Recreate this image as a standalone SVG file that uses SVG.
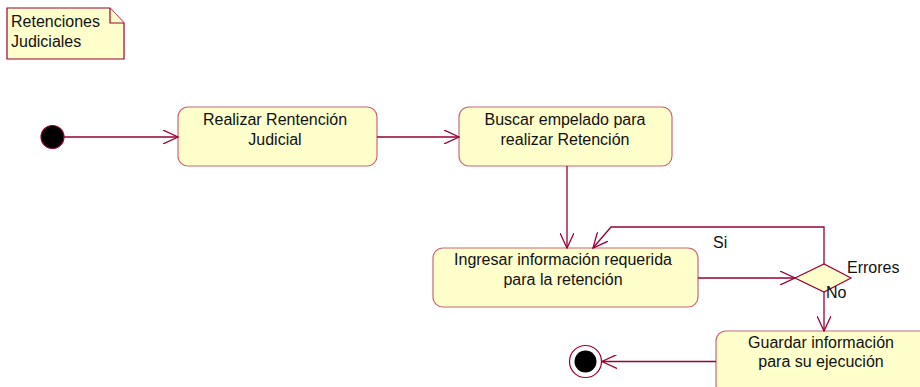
<svg xmlns="http://www.w3.org/2000/svg" width="920" height="387" viewBox="0 0 920 387">
<defs>
<style>
.box{fill:#ffffcc;stroke:#cc6677;stroke-width:1.2}
.t{font-family:"Liberation Sans",Arial,sans-serif;font-size:16px;fill:#111}
.c{text-anchor:middle}
.ln{fill:none;stroke:#990033;stroke-width:1.3}
.note{fill:#ffffcc;stroke:#990033;stroke-width:1.2}
</style>
<marker id="open" viewBox="0 0 16 14" refX="15" refY="7" markerWidth="16" markerHeight="14" markerUnits="userSpaceOnUse" orient="auto">
<path d="M0,0 L15,7 L0,14" fill="none" stroke="#990033" stroke-width="1.3"/>
</marker>
</defs>
<rect width="920" height="387" fill="#fff"/>
<g id="note">
<path class="note" d="M7,8 H110 L124,23 V59 H7 Z"/>
<path class="note" d="M110,8 V23 H124" fill="none"/>
<text class="t" x="11" y="27">Retenciones</text>
<text class="t" x="11" y="47">Judiciales</text>
</g>
<g id="start">
<circle cx="52.5" cy="137" r="11.5" fill="#000" stroke="#990033" stroke-width="1.2"/>
</g>
<g id="realizar">
<rect class="box" x="178" y="107" width="199" height="59" rx="10"/>
<text class="t c" x="275" y="125">Realizar Rentención</text>
<text class="t c" x="275" y="145">Judicial</text>
</g>
<g id="buscar">
<rect class="box" x="459" y="107" width="213" height="59" rx="10"/>
<text class="t c" x="565" y="125">Buscar empelado para</text>
<text class="t c" x="565" y="145">realizar Retención</text>
</g>
<g id="ingresar">
<rect class="box" x="433" y="248" width="265" height="59" rx="10"/>
<text class="t c" x="563" y="265">Ingresar información requerida</text>
<text class="t c" x="563" y="285">para la retención</text>
</g>
<g id="decision">
<path class="box" d="M795,278 L824,264 L851,278 L824,292 Z" style="stroke:#990033"/>
<text class="t" x="847" y="273">Errores</text>
</g>
<g id="guardar">
<rect class="box" x="716" y="331" width="220" height="64" rx="10"/>
<text class="t c" x="821" y="348">Guardar información</text>
<text class="t c" x="821" y="367">para su ejecución</text>
</g>
<g id="end">
<circle cx="585.5" cy="361.5" r="16" fill="#fff" stroke="#990033" stroke-width="1.2"/>
<circle cx="585.5" cy="361.5" r="11" fill="#000"/>
</g>
<g id="connectors">
<line class="ln" x1="64" y1="137" x2="178" y2="137" marker-end="url(#open)"/>
<line class="ln" x1="377" y1="137" x2="459" y2="137" marker-end="url(#open)"/>
<line class="ln" x1="567" y1="166" x2="567" y2="248" marker-end="url(#open)"/>
<line class="ln" x1="698" y1="278" x2="795" y2="278" marker-end="url(#open)"/>
<polyline class="ln" points="824,264 824,227 611,227 593,248" marker-end="url(#open)"/>
<line class="ln" x1="824" y1="292" x2="824" y2="331" marker-end="url(#open)"/>
<line class="ln" x1="716" y1="361.5" x2="602" y2="361.5" marker-end="url(#open)"/>
<text class="t" x="713" y="248">Si</text>
<text class="t" x="826" y="298">No</text>
</g>
</svg>
